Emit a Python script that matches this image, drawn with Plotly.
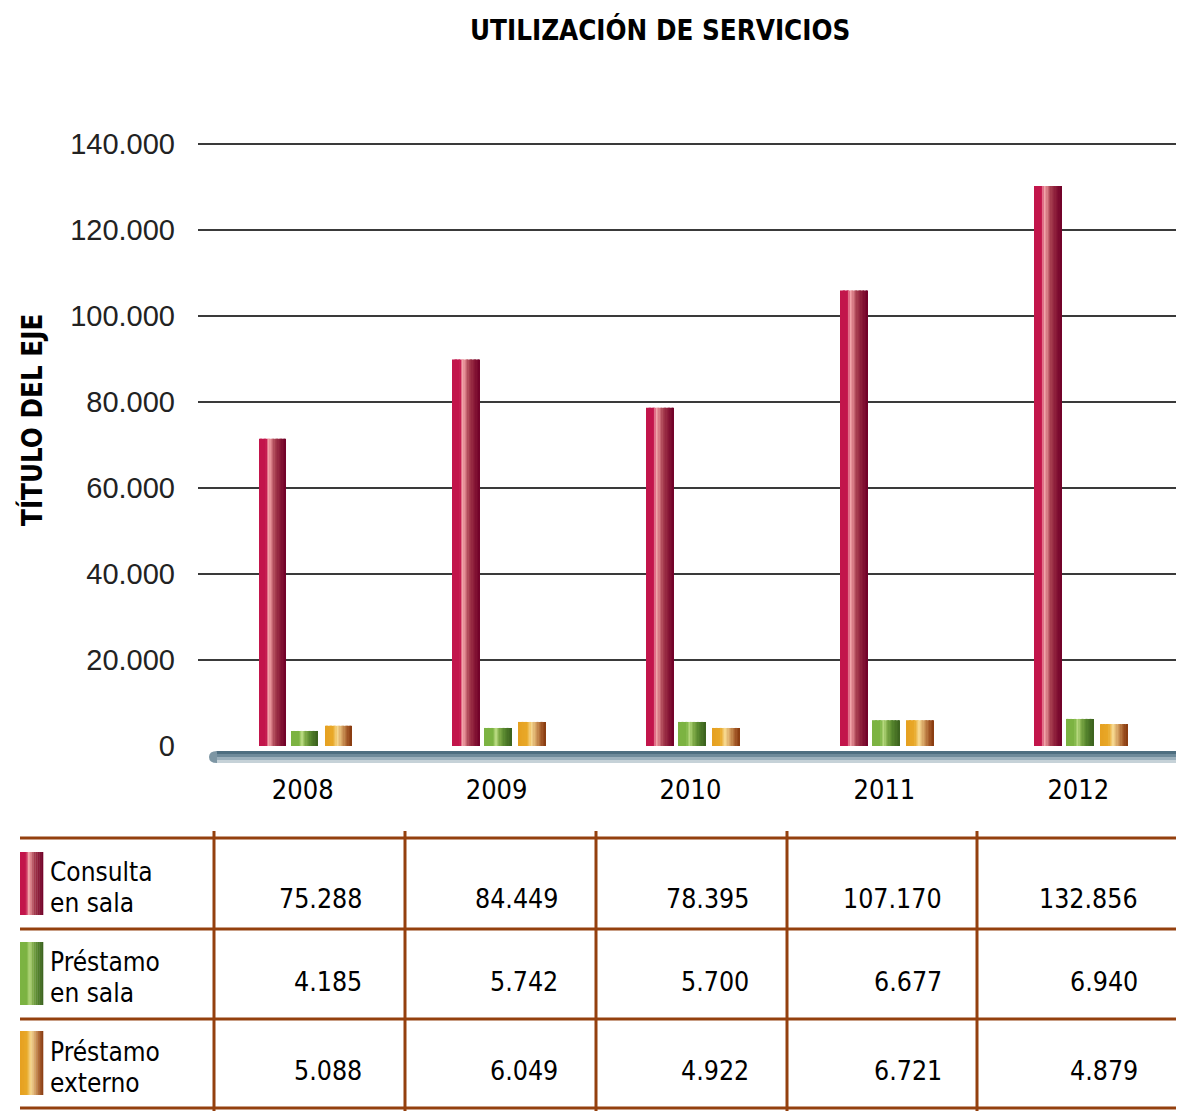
import plotly.graph_objects as go

# ---------------- data ----------------
years = ["2008", "2009", "2010", "2011", "2012"]
series_names = ["Consulta<br>en sala", "Préstamo<br>en sala", "Préstamo<br>externo"]
# bar heights as drawn in the chart
consulta_bars = [71500, 89900, 78700, 106000, 130300]
prestamo_sala_bars = [3500, 4200, 5600, 6000, 6300]
prestamo_ext_bars = [4700, 5600, 4200, 6000, 5100]
# values printed in the data table
consulta_table = ["75.288", "84.449", "78.395", "107.170", "132.856"]
prestamo_sala_table = ["4.185", "5.742", "5.700", "6.677", "6.940"]
prestamo_ext_table = ["5.088", "6.049", "4.922", "6.721", "4.879"]
y_tickvals = [0, 20000, 40000, 60000, 80000, 100000, 120000, 140000]
y_ticktext = ["0", "20.000", "40.000", "60.000", "80.000", "100.000", "120.000", "140.000"]

# ---------------- styling ----------------
BODY = 8  # default page margin of the html body
W, H = 1184 - BODY, 1111 - BODY
PL, PR, PT, PB = 198, 1184, 140, 746  # plot area in reference pixels
XR = [-0.54, 4.545]
YR = [0, 141000]
band = (PR - PL) / (XR[1] - XR[0])

NARROW = "Liberation Sans Narrow, Arial Narrow, DejaVu Sans Condensed, sans-serif"
REG = "Liberation Sans, Arial, sans-serif"

grads = [
    [(0, "#C2154B"), (0.27, "#C2154B"), (0.36, "#F4A9AE"), (0.45, "#E08890"),
     (0.6, "#A84050"), (0.8, "#8A1A38"), (1.0, "#700028")],
    [(0, "#7CB342"), (0.3, "#7CB342"), (0.42, "#B8DA80"), (0.55, "#80AC48"),
     (0.75, "#55842C"), (1.0, "#3A601E")],
    [(0, "#E6A020"), (0.3, "#E8A828"), (0.48, "#F6D890"), (0.65, "#D4A060"),
     (0.85, "#A45A28"), (1.0, "#86380E")],
]


def hex2rgb(h):
    h = h.lstrip("#")
    return tuple(int(h[i:i + 2], 16) for i in (0, 2, 4))


def grad_color(stops, t):
    for (t0, c0), (t1, c1) in zip(stops[:-1], stops[1:]):
        if t0 <= t <= t1:
            f = 0 if t1 == t0 else (t - t0) / (t1 - t0)
            a, b = hex2rgb(c0), hex2rgb(c1)
            return "rgb(%d,%d,%d)" % tuple(round(a[k] + (b[k] - a[k]) * f) for k in range(3))
    return stops[-1][1]


def px_x(px):
    return (px - PL) / (PR - PL)


def px_y(py):
    return (PB - py) / (PB - PT)


bar_w_px = 27
offsets_px = [-43.7, -11.7, 22.3]
series_bars = [consulta_bars, prestamo_sala_bars, prestamo_ext_bars]
series_table = [consulta_table, prestamo_sala_table, prestamo_ext_table]

fig = go.Figure()
N = 20
for s, vals in enumerate(series_bars):
    w = bar_w_px / band
    off = offsets_px[s] / band
    for i in range(N):
        t = (i + 0.5) / N
        sw = w / N
        fig.add_trace(go.Bar(
            x=years, y=vals,
            width=sw * (1.15 if i < N - 1 else 1.0),
            offset=off + i * sw,
            marker=dict(color=grad_color(grads[s], t), line=dict(width=0)),
            showlegend=False, hoverinfo="skip" if i else "y",
        ))

shapes = []
# floor
floor_cols = ["#4E6E80", "#6E8A9A", "#9CB0BC", "#C6D2D8"]
for k, c in enumerate(floor_cols):
    y0 = 751 + k * 3
    shapes.append(dict(type="rect", xref="paper", yref="paper",
                       x0=px_x(216), x1=px_x(1184), y0=px_y(y0), y1=px_y(y0 + 3),
                       fillcolor=c, line=dict(width=0), layer="below"))
shapes.append(dict(type="path", xref="paper", yref="paper",
                   path="M %f %f Q %f %f %f %f L %f %f Q %f %f %f %f Z" % (
                       px_x(217), px_y(751), px_x(209), px_y(751), px_x(209), px_y(757),
                       px_x(209), px_y(757), px_x(209), px_y(763), px_x(217), px_y(763)),
                   fillcolor="#7D96A4", line=dict(width=0), layer="below"))

# table lines
brown = "#94400E"
for yy in [838, 929, 1019, 1108]:
    shapes.append(dict(type="line", xref="paper", yref="paper",
                       x0=px_x(20), x1=px_x(1176), y0=px_y(yy), y1=px_y(yy),
                       line=dict(color=brown, width=3)))
for xx in [214, 405, 596, 787, 977]:
    shapes.append(dict(type="line", xref="paper", yref="paper",
                       x0=px_x(xx), x1=px_x(xx), y0=px_y(831), y1=px_y(1111),
                       line=dict(color=brown, width=3)))

# legend swatches (gradient)
sw_rows = [(852, 915), (942, 1005), (1031, 1095)]
for s, (y0, y1) in enumerate(sw_rows):
    M = 12
    x0, x1 = 20, 43
    for i in range(M):
        t = (i + 0.5) / M
        shapes.append(dict(type="rect", xref="paper", yref="paper",
                           x0=px_x(x0 + (x1 - x0) * i / M),
                           x1=px_x(x0 + (x1 - x0) * (i + 1) / M + 0.3),
                           y0=px_y(y1), y1=px_y(y0),
                           fillcolor=grad_color(grads[s], t), line=dict(width=0)))

annotations = []
# title
annotations.append(dict(text="<b>UTILIZACIÓN DE SERVICIOS</b>", xref="paper", yref="paper",
                        x=px_x(660), y=px_y(30), xanchor="center", yanchor="middle",
                        showarrow=False, font=dict(family=NARROW, size=27.5, color="#000")))
# y-axis title
annotations.append(dict(text="<b>TÍTULO DEL EJE</b>", xref="paper", yref="paper",
                        x=px_x(31), y=px_y(420), xanchor="center", yanchor="middle",
                        textangle=-90, showarrow=False,
                        font=dict(family=NARROW, size=27.5, color="#000")))
# legend labels in table
label_rows = [(872, 903), (962, 993), (1052, 1083)]
for s, name in enumerate(series_names):
    lines = name.split("<br>")
    for ln, yy in zip(lines, label_rows[s]):
        annotations.append(dict(text=ln, xref="paper", yref="paper",
                                x=px_x(48), y=px_y(yy), xanchor="left", yanchor="middle",
                                showarrow=False, font=dict(family=NARROW, size=26, color="#000")))
# table values
col_right = [364, 560, 751, 944, 1140]
row_y = [898, 981, 1070]
for s, vals in enumerate(series_table):
    for j, v in enumerate(vals):
        annotations.append(dict(text=v, xref="paper", yref="paper",
                                x=px_x(col_right[j]), y=px_y(row_y[s]),
                                xanchor="right", yanchor="middle", showarrow=False,
                                font=dict(family=NARROW, size=26.5, color="#000")))

fig.update_layout(
    width=W, height=H,
    margin=dict(l=PL - BODY, r=1184 - PR, t=PT - BODY, b=1111 - PB, pad=0),
    paper_bgcolor="white", plot_bgcolor="white",
    barmode="overlay",
    showlegend=False,
    shapes=shapes, annotations=annotations,
    xaxis=dict(type="category", range=XR, showgrid=False, zeroline=False,
               showline=False, ticks="", ticklabelstandoff=25,
               tickfont=dict(family=NARROW, size=27, color="#000")),
    yaxis=dict(range=YR, tickvals=y_tickvals, ticktext=y_ticktext,
               showgrid=True, gridcolor="#3A3A3A", gridwidth=1.6,
               zeroline=False, showline=False, ticks="", ticklabelstandoff=22,
               tickfont=dict(family=REG, size=29, color="#222")),
)

fig.write_html("out.html")
